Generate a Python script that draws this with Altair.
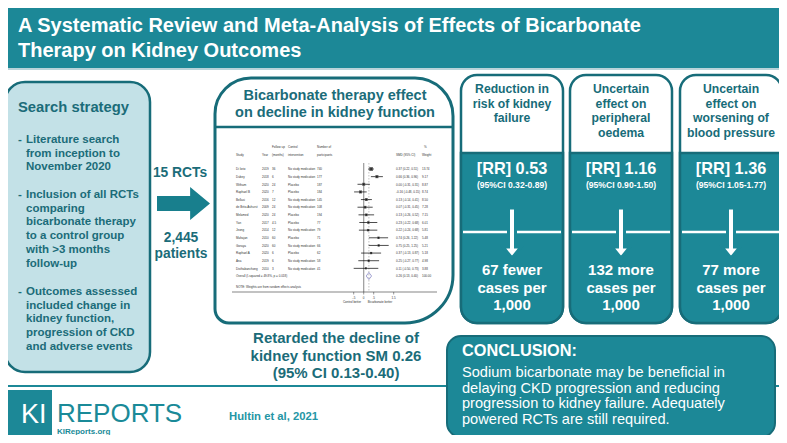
import altair as alt
import pandas as pd

# ---------------- data ----------------
studies = ["Di Iorio", "Dubey", "Witham", "Raphael B", "Bellasi", "de Brito-Ashurst",
           "Melamed", "Yan", "Jeong", "Mahajan", "Goraya", "Raphael A", "Ana", "Disthabanchong"]
years = [2019, 2018, 2020, 2020, 2016, 2009, 2020, 2017, 2014, 2010, 2020, 2020, 2019, 2010]
followup_months = ["36", "6", "24", "7", "12", "24", "24", "4.5", "12", "60", "60", "6", "6", "3"]
control_arm = ["No study medication", "No study medication", "Placebo", "Placebo",
               "No study medication", "No study medication", "Placebo", "Placebo",
               "No study medication", "Placebo", "No study medication", "Placebo",
               "No study medication", "No study medication"]
participants = [740, 177, 187, 184, 145, 108, 194, 77, 79, 71, 66, 62, 58, 41]
smd = [0.37, 0.66, 0.00, -0.16, 0.13, 0.07, 0.13, 0.23, 0.22, 0.74, 0.75, 0.37, 0.25, 0.11]
smd_lo = [0.22, 0.36, -0.31, -0.48, -0.14, -0.31, -0.26, -0.22, -0.24, 0.26, 0.25, -0.13, -0.27, -0.50]
smd_hi = [0.51, 0.96, 0.31, 0.15, 0.41, 0.45, 0.52, 0.68, 0.68, 1.22, 1.25, 0.87, 0.77, 0.73]
weights = [13.74, 9.17, 8.87, 8.74, 8.50, 7.28, 7.15, 6.01, 5.81, 5.48, 5.21, 5.18, 4.98, 3.88]
overall_smd = [0.26, 0.13, 0.40]
overall_label = "Overall  (I-squared = 49.8%, p = 0.018)"
axis_ticks = [-0.5, 0.0, 0.5, 1.5]
axis_tick_labels = ["-.5", "0", ".5", "1.5"]

outcome_titles = [["Reduction in", "risk of kidney", "failure"],
                  ["Uncertain", "effect on", "peripheral", "oedema"],
                  ["Uncertain", "effect on", "worsening of", "blood pressure"]]
rr = [0.53, 1.16, 1.36]
rr_lo = [0.32, 0.90, 1.05]
rr_hi = [0.89, 1.50, 1.77]
cases_per_1000 = [67, 132, 77]
case_direction = ["fewer", "more", "more"]

# ---------------- styling / layout ----------------
OFF = 8
def px(v):
    return v - OFF

TEAL = "#1c8897"
DARK = "#176c79"
LIGHT = "#c3e1e7"
TXT = "#1b6c79"
FONT = "Liberation Sans, Arial, sans-serif"
one = pd.DataFrame({"k": [0]})
layers = []

def rect(x1, y1, x2, y2, fill, stroke=None, sw=0, **corners):
    mk = dict(fill=fill)
    if stroke:
        mk.update(stroke=stroke, strokeWidth=sw)
    mk.update(corners)
    return alt.Chart(one).mark_rect(**mk).encode(
        x=alt.value(px(x1)), x2=alt.value(px(x2)), y=alt.value(px(y1)), y2=alt.value(px(y2)))

def hline(x1, x2, y, color, sw, dash=None):
    mk = dict(color=color, strokeWidth=sw)
    if dash:
        mk["strokeDash"] = dash
    return alt.Chart(one).mark_rule(**mk).encode(
        x=alt.value(px(x1)), x2=alt.value(px(x2)), y=alt.value(px(y)))

def txt(lines, x, y, size, color, bold=False, align="left", lh=None, baseline="alphabetic", font=FONT):
    if isinstance(lines, str):
        lines = [lines]
    mk = dict(text=lines if len(lines) > 1 else lines[0], fontSize=size, color=color, font=font,
              align=align, baseline=baseline, fontWeight="bold" if bold else "normal",
              lineHeight=lh if lh else size * 1.2)
    return alt.Chart(one).mark_text(**mk).encode(x=alt.value(px(x)), y=alt.value(px(y)))

def shape(path, x, y, size, fill, stroke=None, sw=0):
    mk = dict(shape=path, filled=True, fill=fill, size=size, opacity=1)
    if stroke:
        mk.update(stroke=stroke, strokeWidth=sw)
    else:
        mk.update(strokeWidth=0)
    return alt.Chart(one).mark_point(**mk).encode(x=alt.value(px(x)), y=alt.value(px(y)))

# ---- background structure ----
layers.append(rect(0, 0, 787, 68, TEAL))
layers.append(rect(0, 68, 787, 70, "#b9d3d9"))
layers.append(hline(0, 787, 386, TEAL, 2))
layers.append(rect(5, 82, 150, 372, LIGHT, DARK, 2.5, cornerRadius=20))
layers.append(rect(215, 78, 453, 323, "white", DARK, 3,
                   cornerRadiusTopLeft=36, cornerRadiusTopRight=38,
                   cornerRadiusBottomRight=48, cornerRadiusBottomLeft=14))
layers.append(hline(215, 453, 127, DARK, 2.5))

col_x = [461, 570, 680]
col_w = 102
for i, x1 in enumerate(col_x):
    x2 = x1 + col_w
    layers.append(rect(x1, 75, x2, 323, "white", DARK, 2.5, cornerRadius=16))
    layers.append(rect(x1, 153, x2, 323, TEAL, DARK, 2.5,
                       cornerRadiusBottomLeft=16, cornerRadiusBottomRight=16))
    layers.append(hline(x1 + 2, x2 - 2, 232, "white", 2.5))

layers.append(rect(447, 336, 775, 437, TEAL, DARK, 2, cornerRadius=14))
layers.append(rect(3, 390, 52, 435, TEAL))

# ---- title ----
layers.append(txt(["A Systematic Review and Meta-Analysis of Effects of Bicarbonate",
                   "Therapy on Kidney Outcomes"], 18, 32, 20, "white", bold=True, lh=24.5))

# ---- search strategy ----
layers.append(txt("Search strategy", 18, 112, 14.8, TXT, bold=True))
bullets = [(143, ["Literature search", "from inception to", "November 2020"]),
           (198, ["Inclusion of all RCTs", "comparing", "bicarbonate therapy",
                  "to a control group", "with >3 months", "follow-up"]),
           (295, ["Outcomes assessed", "included change in", "kidney function,",
                  "progression of CKD", "and adverse events"])]
for y0, lines in bullets:
    layers.append(txt("-", 18, y0, 11.5, TXT, bold=True))
    layers.append(txt(lines, 26, y0, 11.5, TXT, bold=True, lh=13.7))

# ---- flow arrow ----
big_arrow = "M -1 -0.28 L 0.25 -0.28 L 0.25 -0.62 L 1 0 L 0.25 0.62 L 0.25 0.28 L -1 0.28 Z"
layers.append(shape(big_arrow, 183.5, 203.5, 53 * 53, "#187f8d"))
layers.append(txt("15 RCTs", 180, 177, 13.8, TXT, bold=True, align="center"))
layers.append(txt(["2,445", "patients"], 181, 242, 13.8, TXT, bold=True, align="center", lh=16))

# ---- forest box texts ----
layers.append(txt(["Bicarbonate therapy effect", "on decline in kidney function"],
                  335, 100, 14.5, TXT, bold=True, align="center", lh=17))
layers.append(txt(["Retarded the decline of", "kidney function SM 0.26", "(95% CI 0.13-0.40)"],
                  336, 343, 15, TXT, bold=True, align="center", lh=17.5))
layers.append(txt("Hultin et al, 2021", 229, 420, 11.3, "#2596a5", bold=True))

# ---- logo ----
layers.append(txt("KI", 21, 423, 27, "white"))
layers.append(txt("REPORTS", 57, 422, 26, "#1a8a98"))
layers.append(txt("KIReports.org", 57, 434, 8, "#1a8a98", bold=True))

# ---- outcome columns ----
down_arrow = "M -0.14 -1 L 0.14 -1 L 0.14 0.56 L 0.36 0.56 L 0 1 L -0.36 0.56 L -0.14 0.56 Z"
for i, x1 in enumerate(col_x):
    cx = x1 + col_w / 2
    layers.append(txt(outcome_titles[i], cx, 93, 12.2, DARK, bold=True, align="center", lh=14.6))
    layers.append(txt(f"[RR] {rr[i]:.2f}", cx, 174, 16.3, "white", bold=True, align="center"))
    layers.append(txt(f"(95%CI {rr_lo[i]:.2f}-{rr_hi[i]:.2f})", cx, 188, 8.6, "white",
                      bold=True, align="center"))
    layers.append(shape(down_arrow, cx, 233, 2500, "white", TEAL, 3))
    layers.append(txt([f"{cases_per_1000[i]} {case_direction[i]}", "cases per", "1,000"],
                      cx, 275, 15, "white", bold=True, align="center", lh=17.5))

# ---- conclusion ----
layers.append(txt("CONCLUSION:", 462, 356, 16.3, "white", bold=True))
layers.append(txt(["Sodium bicarbonate may be beneficial in",
                   "delaying CKD progression and reducing",
                   "progression to kidney failure. Adequately",
                   "powered RCTs are still required."], 462, 377, 14.6, "white", lh=15.7))

# ---------------- forest plot ----------------
xs = alt.Scale(domain=[0, 1], range=[px(363.7), px(383.7)], nice=False, zero=False)
ys = alt.Scale(domain=[0, 14], range=[px(169), px(276)], nice=False, zero=False)

n_st = len(studies)
fp = pd.DataFrame({"row": list(range(n_st)), "smd": smd, "lo": smd_lo, "hi": smd_hi, "w": weights})
ov = pd.DataFrame({"row": [n_st], "smd": [overall_smd[0]], "lo": [overall_smd[1]], "hi": [overall_smd[2]]})

tt = pd.DataFrame({
    "row": list(range(n_st + 1)),
    "study": studies + [overall_label],
    "year": [str(y) for y in years] + [""],
    "fu": followup_months + [""],
    "ctrl": control_arm + [""],
    "n": [str(n) for n in participants] + [""],
    "ci": [f"{a:.2f} ({b:.2f}, {c:.2f})" for a, b, c in zip(smd, smd_lo, smd_hi)]
          + [f"{overall_smd[0]:.2f} ({overall_smd[1]:.2f}, {overall_smd[2]:.2f})"],
    "wt": [f"{w:.2f}" for w in weights] + ["100.00"],
})

FS = 3
FC = "#333"
for field, xpos in [("study", 236), ("year", 262), ("fu", 272), ("ctrl", 288),
                    ("n", 317), ("ci", 396), ("wt", 422)]:
    layers.append(alt.Chart(tt).mark_text(fontSize=FS, font=FONT, align="left", baseline="middle",
                                          color=FC).encode(
        x=alt.value(px(xpos)), y=alt.Y("row:Q", scale=ys, axis=None), text=f"{field}:N"))

for label, xpos, ypos in [("Follow up", 272, 147), ("Control", 288, 147), ("Number of", 317, 147),
                          ("%", 424, 147), ("Study", 236, 155), ("Year", 262, 155),
                          ("(months)", 272, 155), ("intervention", 288, 155),
                          ("participants", 317, 155), ("SMD (95% CI)", 396, 155), ("Weight", 422, 155)]:
    layers.append(txt(label, xpos, ypos, FS, FC, baseline="middle"))

layers.append(txt("NOTE: Weights are from random effects analysis", 236, 287, FS, FC, baseline="middle"))

refs = pd.DataFrame({"v": [0.0]})
layers.append(alt.Chart(refs).mark_rule(color="#9a9a9a", strokeWidth=1.2).encode(
    x=alt.X("v:Q", scale=xs, axis=None), y=alt.value(px(163)), y2=alt.value(px(292))))
layers.append(alt.Chart(ov).mark_rule(color="#999", strokeWidth=0.6, strokeDash=[1.5, 1.5]).encode(
    x=alt.X("smd:Q", scale=xs, axis=None), y=alt.value(px(163)), y2=alt.value(px(292))))

layers.append(alt.Chart(fp).mark_rule(color="black", strokeWidth=0.7).encode(
    x=alt.X("lo:Q", scale=xs, axis=None), x2="hi:Q", y=alt.Y("row:Q", scale=ys, axis=None)))
layers.append(alt.Chart(fp).mark_square(color="#555", opacity=1).encode(
    x=alt.X("smd:Q", scale=xs, axis=None), y=alt.Y("row:Q", scale=ys, axis=None),
    size=alt.Size("w:Q", scale=alt.Scale(domain=[0, 14], range=[0, 14]), legend=None)))
layers.append(alt.Chart(fp).mark_point(shape="diamond", filled=True, color="black", size=4).encode(
    x=alt.X("smd:Q", scale=xs, axis=None), y=alt.Y("row:Q", scale=ys, axis=None)))
layers.append(alt.Chart(ov).mark_point(shape="M -1 0 L 0 -1.3 L 1 0 L 0 1.3 Z", filled=False,
                                       color="#5b5bb0", strokeWidth=0.8, size=29).encode(
    x=alt.X("smd:Q", scale=xs, axis=None), y=alt.Y("row:Q", scale=ys, axis=None)))

layers.append(hline(232, 437, 292, "#333", 0.6))
ticks = pd.DataFrame({"t": axis_ticks, "lab": axis_tick_labels})
layers.append(alt.Chart(ticks).mark_rule(color="#333", strokeWidth=0.5).encode(
    x=alt.X("t:Q", scale=xs, axis=None), y=alt.value(px(292)), y2=alt.value(px(294.5))))
layers.append(alt.Chart(ticks).mark_text(fontSize=FS, font=FONT, baseline="middle", color=FC).encode(
    x=alt.X("t:Q", scale=xs, axis=None), y=alt.value(px(297.5)), text="lab:N"))
layers.append(txt("Control better", 352, 302, FS, FC, align="center", baseline="middle"))
layers.append(txt("Bicarbonate better", 380, 302, FS, FC, align="center", baseline="middle"))

chart = alt.layer(*layers).properties(
    width=771, height=427, padding=0, autosize=alt.AutoSizeParams(type="none")
).configure_view(stroke=None)

chart.save("out.html", embed_options={"renderer": "svg", "actions": False})
